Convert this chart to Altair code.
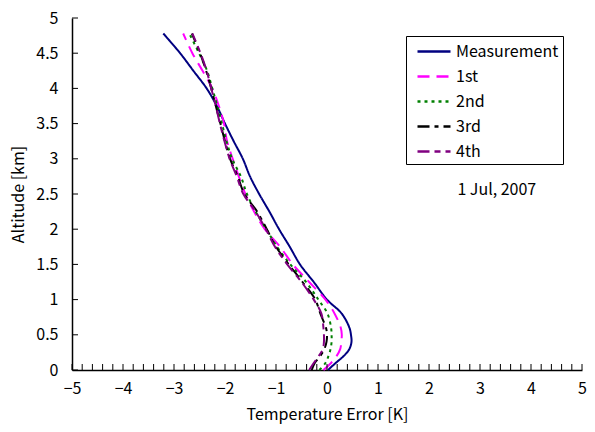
import altair as alt
import pandas as pd

altitude = [0.0, 0.1, 0.2, 0.3, 0.4, 0.5, 0.6, 0.8, 1.0, 1.25, 1.5, 1.75, 2.0, 2.25,
            2.5, 2.75, 3.0, 3.25, 3.5, 3.75, 4.0, 4.25, 4.5, 4.78]
measurement = [0.02, 0.17, 0.33, 0.44, 0.48, 0.47, 0.44, 0.29, 0.0, -0.26, -0.53, -0.73,
               -0.94, -1.13, -1.33, -1.51, -1.65, -1.83, -2.0, -2.16, -2.36, -2.62, -2.88, -3.21]
first = [-0.07, 0.08, 0.19, 0.26, 0.28, 0.29, 0.27, 0.15, -0.03, -0.35, -0.67, -0.92,
         -1.22, -1.43, -1.60, -1.73, -1.85, -1.96, -2.02, -2.12, -2.25, -2.44, -2.64, -2.82]
second = [-0.15, -0.03, 0.03, 0.07, 0.09, 0.09, 0.08, 0.01, -0.17, -0.41, -0.72, -0.98,
          -1.19, -1.40, -1.57, -1.69, -1.86, -1.97, -2.06, -2.15, -2.25, -2.35, -2.51, -2.70]
third = [-0.30, -0.24, -0.13, -0.05, -0.01, 0.0, -0.02, -0.13, -0.23, -0.48, -0.75, -1.0,
         -1.18, -1.37, -1.62, -1.75, -1.90, -2.0, -2.09, -2.18, -2.27, -2.37, -2.49, -2.65]
fourth = [-0.35, -0.26, -0.16, -0.08, -0.06, -0.06, -0.07, -0.11, -0.26, -0.50, -0.78, -1.02,
          -1.20, -1.40, -1.64, -1.77, -1.91, -2.01, -2.10, -2.18, -2.27, -2.36, -2.48, -2.64]

series_names = ["Measurement", "1st", "2nd", "3rd", "4th"]
series_values = [measurement, first, second, third, fourth]
colors = ["#000080", "#FF00FF", "#008000", "#000000", "#800080"]
dashes = [[1, 0], [12, 7], [3, 4], [12, 5, 4, 5], [12, 5, 6, 5]]

x_tick_labels = [-5, -4, -3, -2, -1, 0, 1, 2, 3, 4, 5]
x_minor_ticks = [round(-5 + 0.2 * i, 1) for i in range(51)]
y_tick_values = [0, 0.5, 1, 1.5, 2, 2.5, 3, 3.5, 4, 4.5, 5]

rows = []
for name, vals in zip(series_names, series_values):
    for a, v in zip(altitude, vals):
        rows.append({"series": name, "alt": a, "err": v})
df = pd.DataFrame(rows)

FONT = "Noto Sans CJK JP"
W, H = 510, 352

xscale = alt.Scale(domain=[-5, 5], nice=False)
yscale = alt.Scale(domain=[0, 5], nice=False)
xaxis = alt.Axis(values=x_tick_labels, ticks=False, tickSize=0, grid=False,
                 labelPadding=10, titlePadding=10, format="~g",
                 labelOverlap=False, labelFlush=False, title="Temperature Error [K]")
yaxis = alt.Axis(values=y_tick_values, ticks=False, tickSize=0, grid=False,
                 labelPadding=14, titlePadding=9, format="~g",
                 labelOverlap=False, labelFlush=False, title="Altitude [km]")

leg = alt.Legend(title=None, orient="none", legendX=334, legendY=18,
                 strokeColor="black", padding=4, symbolType="M-0.4,0H2.9",
                 symbolSize=400, symbolStrokeWidth=2.5,
                 labelFontSize=16, labelFont=FONT, rowPadding=5,
                 labelLimit=200, labelOffset=23)

lines = alt.Chart(df).mark_line(strokeWidth=2, interpolate="catmull-rom").encode(
    x=alt.X("err:Q", scale=xscale, axis=xaxis),
    y=alt.Y("alt:Q", scale=yscale, axis=yaxis),
    color=alt.Color("series:N", scale=alt.Scale(domain=series_names, range=colors), legend=leg),
    strokeDash=alt.StrokeDash("series:N", scale=alt.Scale(domain=series_names, range=dashes),
                              legend=leg),
    order=alt.Order("alt:Q"),
    detail="series:N",
)

xt = alt.Chart(pd.DataFrame({"t": x_minor_ticks})).mark_rule(color="black", strokeWidth=1).encode(
    x=alt.X("t:Q", scale=xscale, axis=xaxis), y=alt.value(H), y2=alt.value(H - 6))
yt = alt.Chart(pd.DataFrame({"t": y_tick_values})).mark_rule(color="black", strokeWidth=1).encode(
    y=alt.Y("t:Q", scale=yscale, axis=yaxis), x=alt.value(0), x2=alt.value(6))

label = alt.Chart(pd.DataFrame({"x": [3.33], "y": [2.56], "s": ["1 Jul, 2007"]})).mark_text(
    fontSize=16, font=FONT, color="black").encode(
    x=alt.X("x:Q", scale=xscale, axis=xaxis), y=alt.Y("y:Q", scale=yscale, axis=yaxis), text="s:N")

chart = alt.layer(lines, xt, yt, label).properties(
    width=W, height=H, autosize="none",
    padding={"left": 64, "top": 10, "right": 5, "bottom": 54},
).configure_view(stroke=None).configure_axis(
    domainColor="black", domainWidth=1.5, labelFont=FONT, titleFont=FONT,
    labelFontSize=16, titleFontSize=16, labelColor="black", titleColor="black",
    titleFontWeight="normal",
)

chart.save("out.html", embed_options={"renderer": "svg", "actions": False})
